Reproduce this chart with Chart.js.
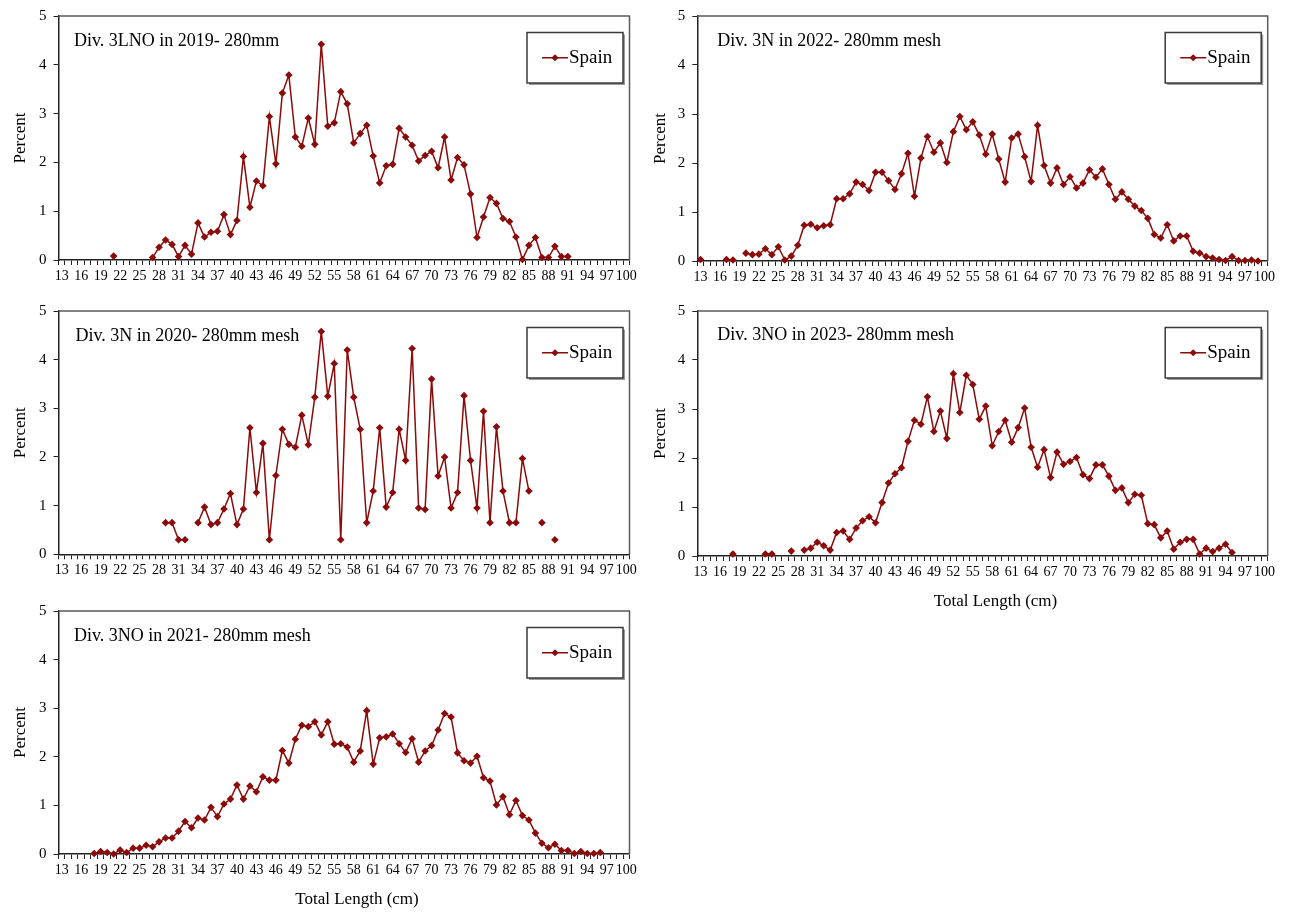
<!DOCTYPE html>
<html><head><meta charset="utf-8">
<script src="https://cdn.jsdelivr.net/npm/chart.js@4.4.0/dist/chart.umd.min.js"></script>
<style>
html,body{margin:0;padding:0;background:#fff;}
body{width:1289px;height:915px;position:relative;overflow:hidden;}
canvas{position:absolute;display:block;}
</style></head><body>
<canvas id="c1" width="645" height="300" style="left:0px;top:0px"></canvas>
<canvas id="c2" width="649" height="300" style="left:640px;top:0px"></canvas>
<canvas id="c3" width="645" height="300" style="left:0px;top:295px"></canvas>
<canvas id="c4" width="649" height="325" style="left:640px;top:295px"></canvas>
<canvas id="c5" width="645" height="320" style="left:0px;top:595px"></canvas>
<script>
// ---------- DATA ----------
const categories = [13,14,15,16,17,18,19,20,21,22,23,24,25,26,27,28,29,30,31,32,33,34,35,36,37,38,39,40,
  41,42,43,44,45,46,47,48,49,50,51,52,53,54,55,56,57,58,59,60,61,62,63,64,65,66,67,68,69,70,
  71,72,73,74,75,76,77,78,79,80,81,82,83,84,85,86,87,88,89,90,91,92,93,94,95,96,97,98,99,100];
const tickLabels = [13,16,19,22,25,28,31,34,37,40,43,46,49,52,55,58,61,64,67,70,73,76,79,82,85,88,91,94,97,100];
const yTicks = [0,1,2,3,4,5];
const seriesName = 'Spain';

const s2019 = [
  null,null,null,null,null,null,null,null,            // 13-20
  0.08,                                               // 21
  null,null,null,null,null,                           // 22-26
  0.05,0.26,0.41,0.32,0.07,0.30,0.12,0.76,0.47,0.57,  // 27-36
  0.59,0.93,0.52,0.81,2.12,1.08,1.62,1.52,2.94,1.97,  // 37-46
  3.42,3.79,2.52,2.33,2.91,2.37,4.42,2.74,2.81,3.45,  // 47-56
  3.20,2.40,2.59,2.76,2.13,1.58,1.93,1.96,2.70,2.52,  // 57-66
  2.35,2.03,2.14,2.23,1.89,2.52,1.64,2.10,1.95,1.35,  // 67-76
  0.46,0.88,1.28,1.16,0.85,0.79,0.47,0.01,0.30,0.46,  // 77-86
  0.05,0.05,0.28,0.07,0.07,                           // 87-91
  null,null,null,null,null,null,null,null,null        // 92-100
];
const s2022 = [
  0.03,                                               // 13
  null,null,null,                                     // 14-16
  0.03,0.02,                                          // 17-18
  null,                                               // 19
  0.16,0.13,0.14,0.25,0.13,0.29,0.02,0.10,0.32,0.73,  // 20-29
  0.75,0.68,0.72,0.74,1.27,1.27,1.37,1.61,1.56,1.44,  // 30-39
  1.81,1.81,1.64,1.46,1.78,2.20,1.32,2.10,2.54,2.22,  // 40-49
  2.41,2.01,2.64,2.95,2.68,2.84,2.57,2.18,2.59,2.08,  // 50-59
  1.61,2.51,2.59,2.13,1.62,2.77,1.95,1.59,1.90,1.56,  // 60-69
  1.72,1.49,1.59,1.86,1.71,1.88,1.56,1.26,1.41,1.26,  // 70-79
  1.12,1.03,0.87,0.54,0.47,0.74,0.41,0.51,0.51,0.20,  // 80-89
  0.16,0.09,0.06,0.03,0.01,0.09,0.01,0.01,0.02,0.00,  // 90-99
  null                                                // 100
];
const s2020 = [
  null,null,null,null,null,null,null,null,null,null,null,null,null,null,null,null, // 13-28
  0.65,0.65,0.30,0.30,                                // 29-32
  null,                                               // 33
  0.65,0.97,0.61,0.65,0.93,1.25,0.61,0.93,2.60,1.27,  // 34-43
  2.28,0.30,1.62,2.57,2.26,2.20,2.86,2.25,3.23,4.58,  // 44-53
  3.25,3.92,0.30,4.20,3.23,2.57,0.65,1.30,2.60,0.97,  // 54-63
  1.27,2.57,1.93,4.23,0.95,0.92,3.60,1.61,2.00,0.95,  // 64-73
  1.27,3.26,1.93,0.95,2.94,0.65,2.62,1.30,0.65,0.65,  // 74-83
  1.97,1.30,                                          // 84-85
  null,0.65,null,0.30,                                // 86-89
  null,null,null,null,null,null,null,null,null,null,null // 90-100
];
const s2023 = [
  null,null,null,null,null,                           // 13-17
  0.04,                                               // 18
  null,null,null,null,                                // 19-22
  0.04,0.04,                                          // 23-24
  null,null,                                          // 25-26
  0.10,                                               // 27
  null,                                               // 28
  0.12,0.16,0.28,0.21,0.12,0.48,0.51,0.34,0.57,0.72,  // 29-38
  0.80,0.68,1.09,1.49,1.68,1.80,2.34,2.77,2.69,3.25,  // 39-48
  2.54,2.96,2.40,3.72,2.93,3.69,3.50,2.79,3.06,2.25,  // 49-58
  2.54,2.77,2.32,2.62,3.02,2.22,1.81,2.17,1.60,2.12,  // 59-68
  1.87,1.93,2.01,1.66,1.58,1.86,1.86,1.63,1.34,1.39,  // 69-78
  1.09,1.26,1.24,0.66,0.64,0.37,0.51,0.14,0.28,0.34,  // 79-88
  0.34,0.04,0.16,0.09,0.16,0.24,0.07,                 // 89-95
  null,null,null,null,null                            // 96-100
];
const s2021 = [
  null,null,null,null,null,                           // 13-17
  0.01,0.05,0.03,0.00,0.08,0.03,0.12,0.12,0.18,0.15,  // 18-27
  0.25,0.33,0.33,0.47,0.67,0.54,0.74,0.70,0.96,0.77,  // 28-37
  1.03,1.13,1.42,1.13,1.40,1.28,1.59,1.52,1.52,2.13,  // 38-47
  1.87,2.36,2.65,2.62,2.72,2.45,2.72,2.26,2.27,2.20,  // 48-57
  1.89,2.12,2.95,1.85,2.39,2.41,2.47,2.27,2.09,2.37,  // 58-67
  1.89,2.12,2.23,2.55,2.89,2.82,2.08,1.92,1.87,2.01,  // 68-77
  1.57,1.50,1.01,1.18,0.81,1.10,0.79,0.70,0.43,0.22,  // 78-87
  0.13,0.20,0.07,0.07,0.01,0.05,0.01,0.01,0.03,       // 88-96
  null,null,null,null                                 // 97-100
];

// ---------- STYLE ----------
const FONT = "'Liberation Serif','Times New Roman',serif";
const RED = '#8b0a0a';

const deco = {
  id: 'deco',
  afterDraw(chart, args, o) {
    const ctx = chart.ctx, a = chart.chartArea;
    ctx.save();
    // plot area top/right border
    ctx.strokeStyle = '#5a5a5a'; ctx.lineWidth = 1.5;
    ctx.beginPath();
    ctx.moveTo(a.left, a.top); ctx.lineTo(a.right, a.top); ctx.lineTo(a.right, a.bottom);
    ctx.stroke();
    // panel title
    ctx.fillStyle = '#000'; ctx.font = '18px ' + FONT;
    ctx.textAlign = 'left'; ctx.textBaseline = 'alphabetic';
    ctx.fillText(o.title, a.left + o.tx, a.top + o.ty);
    // x axis title
    if (o.xTitle) {
      ctx.font = '17px ' + FONT; ctx.textAlign = 'center'; ctx.textBaseline = 'middle';
      ctx.fillText(o.xTitle, (a.left + a.right) / 2 + 13, a.bottom + o.xTitleDy);
    }
    // legend box
    const bw = 96, bh = 50.5;
    const bx = a.right - 6.5 - bw, by = a.top + 16.5;
    ctx.fillStyle = '#9a9a9a'; ctx.fillRect(bx + 2, by + 2, bw, bh);
    ctx.fillStyle = '#fff'; ctx.fillRect(bx, by, bw, bh);
    ctx.strokeStyle = '#3a3a3a'; ctx.lineWidth = 1.5; ctx.strokeRect(bx, by, bw, bh);
    const ly = by + bh / 2;
    const ds = chart.data.datasets[0];
    ctx.strokeStyle = ds.borderColor; ctx.lineWidth = 1.5;
    ctx.beginPath(); ctx.moveTo(bx + 15, ly); ctx.lineTo(bx + 41, ly); ctx.stroke();
    const cx = bx + 28, r = 3.6;
    ctx.fillStyle = ds.pointBackgroundColor;
    ctx.beginPath(); ctx.moveTo(cx, ly - r); ctx.lineTo(cx + r, ly); ctx.lineTo(cx, ly + r); ctx.lineTo(cx - r, ly); ctx.closePath(); ctx.fill();
    ctx.fillStyle = '#000'; ctx.font = '19px ' + FONT; ctx.textAlign = 'left'; ctx.textBaseline = 'middle';
    ctx.fillText(ds.label, bx + 42, ly);
    ctx.restore();
  }
};

function makePanel(id, series, cfg) {
  const canvas = document.getElementById(id);
  const H = canvas.height;
  const xH = H - cfg.plotBottom;
  const xScale = {
    type: 'category',
    offset: true,
    afterFit(s) { s.height = xH; },
    grid: { display: true, drawOnChartArea: false, drawTicks: true, tickLength: 5, color: '#222', lineWidth: 1, offset: true },
    border: { display: true, color: '#222', width: 1.5 },
    ticks: {
      autoSkip: false, maxRotation: 0, minRotation: 0, padding: 3,
      color: '#000', font: { family: FONT, size: 14 },
      callback(v) { const l = this.getLabelForValue(v); return tickLabels.indexOf(Number(l)) >= 0 ? l : ''; }
    },
    title: { display: false }
  };
  const yScale = {
    type: 'linear', min: 0, max: 5,
    afterFit(s) { s.width = cfg.yW; },
    afterBuildTicks(s) { s.ticks = yTicks.map(v => ({ value: v })); },
    grid: { display: true, drawOnChartArea: false, drawTicks: true, tickLength: 5, color: '#222', lineWidth: 1 },
    border: { display: true, color: '#222', width: 1.5 },
    ticks: { padding: 7, color: '#000', font: { family: FONT, size: 15 } },
    title: { display: true, text: 'Percent', color: '#000', font: { family: FONT, size: 17 }, padding: { top: 10, bottom: 0 } }
  };
  return new Chart(canvas, {
    type: 'line',
    data: {
      labels: categories,
      datasets: [{
        label: seriesName, data: series,
        borderColor: RED, backgroundColor: RED, borderWidth: 1.5,
        pointStyle: 'rectRot', pointRadius: 3.8, pointBorderWidth: 0,
        pointBackgroundColor: RED, pointBorderColor: RED,
        spanGaps: false, tension: 0, clip: false
      }]
    },
    options: {
      responsive: false, animation: false, devicePixelRatio: 1,
      layout: { padding: { left: 0, top: cfg.plotTop, right: canvas.width - cfg.plotRight, bottom: 0 } },
      scales: { x: xScale, y: yScale },
      plugins: {
        legend: { display: false }, tooltip: { enabled: false },
        deco: { title: cfg.title, tx: cfg.tx, ty: cfg.ty, xTitle: cfg.xTitle ? 'Total Length (cm)' : '', xTitleDy: cfg.xTitleDy }
      }
    },
    plugins: [deco]
  });
}

makePanel('c1', s2019, { title: 'Div. 3LNO in 2019- 280mm', plotTop: 13.3, plotBottom: 260, plotRight: 629.5, yW: 58.5, tx: 15.5, ty: 30 });
makePanel('c2', s2022, { title: 'Div. 3N in 2022- 280mm mesh', plotTop: 13, plotBottom: 261, plotRight: 627.7, yW: 57.3, tx: 20, ty: 30 });
makePanel('c3', s2020, { title: 'Div. 3N in 2020- 280mm mesh', plotTop: 12.8, plotBottom: 259.3, plotRight: 629.5, yW: 58.5, tx: 17, ty: 30 });
makePanel('c4', s2023, { title: 'Div. 3NO in 2023- 280mm mesh', plotTop: 14.5, plotBottom: 261, plotRight: 627.7, yW: 57.3, tx: 20, ty: 29, xTitle: true, xTitleDy: 46 });
makePanel('c5', s2021, { title: 'Div. 3NO in 2021- 280mm mesh', plotTop: 12.5, plotBottom: 259, plotRight: 629.5, yW: 58.5, tx: 15.5, ty: 30, xTitle: true, xTitleDy: 46 });
</script>
</body></html>
